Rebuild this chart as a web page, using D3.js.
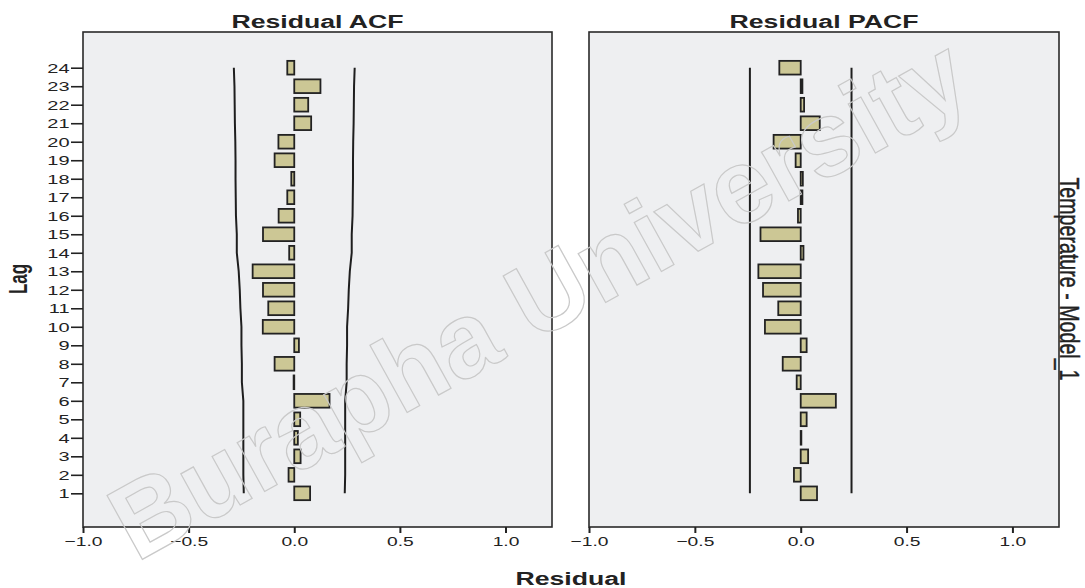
<!DOCTYPE html>
<html>
<head>
<meta charset="utf-8">
<script src="https://cdn.jsdelivr.net/npm/d3@7"></script>
<style>
  body { margin: 0; background: #fff; }
  text { font-family: "Liberation Sans", Arial, sans-serif; fill: #222; }
</style>
</head>
<body>
<div id="chart"></div>
<script>
// data
const lags = [1, 2, 3, 4, 5, 6, 7, 8, 9, 10, 11, 12, 13, 14, 15, 16, 17, 18, 19, 20, 21, 22, 23, 24];
const acf = [0.075, -0.027, 0.030, 0.017, 0.028, 0.167, -0.003, -0.093, 0.022, -0.149, -0.123, -0.148,
  -0.197, -0.024, -0.148, -0.074, -0.033, -0.014, -0.093, -0.075, 0.080, 0.066, 0.124, -0.033];
const pacf = [0.077, -0.032, 0.035, 0.003, 0.028, 0.166, -0.019, -0.085, 0.028, -0.169, -0.106, -0.178,
  -0.200, 0.013, -0.190, -0.013, 0.008, 0.010, -0.024, -0.128, 0.090, 0.016, 0.008, -0.101];
// confidence limits (+/-)
const acfLimit = [0.239, 0.241, 0.241, 0.241, 0.241, 0.241, 0.248, 0.248, 0.250, 0.250, 0.255, 0.258,
  0.263, 0.272, 0.272, 0.276, 0.277, 0.278, 0.278, 0.279, 0.281, 0.282, 0.283, 0.286];
const pacfLimit = [0.240, 0.240, 0.240, 0.240, 0.240, 0.240, 0.240, 0.240, 0.240, 0.240, 0.240, 0.240,
  0.240, 0.240, 0.240, 0.240, 0.240, 0.240, 0.240, 0.240, 0.240, 0.240, 0.240, 0.240];
const xTicks = [-1.0, -0.5, 0.0, 0.5, 1.0];

const W = 1085, H = 588;
const SX = 1.48; // the picture is stretched sideways, text too

const svg = d3.select("#chart")
  .append("svg")
  .attr("width", W)
  .attr("height", H);

const y = d3.scaleLinear()
  .domain([-0.82, 25.93])
  .range([527, 32]);

const panels = [
  { title: "Residual ACF", vals: acf, lim: acfLimit, x0: 83, x1: 552 },
  { title: "Residual PACF", vals: pacf, lim: pacfLimit, x0: 589, x1: 1059 }
];

panels.forEach((p, pi) => {
  const x = d3.scaleLinear().domain([-1, 1.22]).range([p.x0, p.x1]);
  const g = svg.append("g");

  // background + frame
  g.append("rect")
    .attr("x", p.x0).attr("y", y(25.93))
    .attr("width", p.x1 - p.x0).attr("height", y(-0.82) - y(25.93))
    .attr("fill", "#eeeff1")
    .attr("stroke", "#2a2a2a")
    .attr("stroke-width", 1.6);

  // bars
  g.selectAll(".bar")
    .data(lags)
    .join("rect")
    .attr("class", "bar")
    .attr("x", (d, i) => x(Math.min(0, p.vals[i])))
    .attr("width", (d, i) => Math.abs(x(p.vals[i]) - x(0)))
    .attr("y", d => y(d + 0.37))
    .attr("height", y(0) - y(0.74))
    .attr("fill", "#ccc795")
    .attr("stroke", "#222")
    .attr("stroke-width", 1.8);

  // confidence limits
  [1, -1].forEach(s => {
    g.append("path")
      .datum(lags)
      .attr("fill", "none")
      .attr("stroke", "#1e1e1e")
      .attr("stroke-width", 2)
      .attr("d", d3.line()
        .x((d, i) => x(s * p.lim[i]))
        .y(d => y(d)));
  });

  // x axis
  const xa = g.append("g")
    .attr("transform", `translate(0,${y(-0.82)})`)
    .call(d3.axisBottom(x).tickValues(xTicks).tickFormat(d3.format(".1f")).tickSize(6).tickPadding(4));
  xa.select(".domain").remove();
  xa.selectAll(".tick line").attr("stroke", "#222").attr("stroke-width", 2);
  xa.selectAll(".tick text")
    .attr("font-size", 13)
    .attr("fill", "#222")
    .attr("transform", `scale(${SX},1)`);

  // y axis only on the first panel
  if (pi === 0) {
    const ya = g.append("g")
      .attr("transform", `translate(${p.x0},0)`)
      .call(d3.axisLeft(y).tickValues(lags).tickFormat(d3.format("d")).tickSize(12).tickPadding(1));
    ya.select(".domain").remove();
    ya.selectAll(".tick line").attr("stroke", "#222").attr("stroke-width", 1.6);
    ya.selectAll(".tick text")
      .attr("font-size", 13.5)
      .attr("fill", "#222")
      .attr("x", -13.5 / SX)
      .attr("transform", `scale(${SX},1)`);
  }

  // panel title
  svg.append("text")
    .attr("transform", `translate(${(p.x0 + p.x1) / 2},28) scale(${SX},1)`)
    .attr("text-anchor", "middle")
    .attr("font-size", 18)
    .attr("font-weight", "bold")
    .text(p.title);
});

// axis titles
svg.append("text")
  .attr("transform", `translate(571,585) scale(${SX},1)`)
  .attr("text-anchor", "middle")
  .attr("font-size", 18)
  .attr("font-weight", "bold")
  .text("Residual");

svg.append("text")
  .attr("transform", `translate(27,279) scale(${SX},1) rotate(-90)`)
  .attr("text-anchor", "middle")
  .attr("font-size", 17)
  .attr("font-weight", "bold")
  .text("Lag");

svg.append("text")
  .attr("transform", `translate(1060,279) scale(${SX},1) rotate(90)`)
  .attr("text-anchor", "middle")
  .attr("font-size", 18.5)
  .attr("textLength", 203)
  .attr("lengthAdjust", "spacingAndGlyphs")
  .style("stroke", "#222")
  .style("stroke-width", 0.3)
  .text("Temperature - Model_1");

// watermark
svg.append("text")
  .attr("transform", "translate(556,330) rotate(-29)")
  .attr("text-anchor", "middle")
  .attr("font-size", 106)
  .attr("font-weight", "bold")
  .attr("textLength", 960)
  .attr("lengthAdjust", "spacingAndGlyphs")
  .style("fill", "none")
  .style("stroke", "#c9c9c9")
  .style("stroke-width", 1.2)
  .text("Burapha University");
</script>
</body>
</html>
